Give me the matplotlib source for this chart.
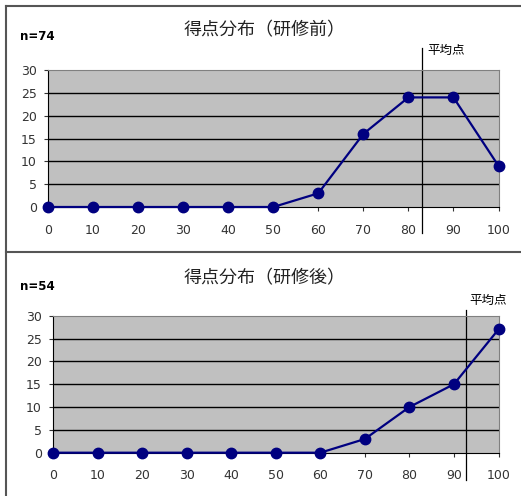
import matplotlib.pyplot as plt
from matplotlib.lines import Line2D

plt.rcParams['font.family'] = ['Noto Sans CJK JP', 'DejaVu Sans']

scores = [0, 10, 20, 30, 40, 50, 60, 70, 80, 90, 100]
before = [0, 0, 0, 0, 0, 0, 3, 16, 24, 24, 9]
after = [0, 0, 0, 0, 0, 0, 0, 3, 10, 15, 27]
mean_before = 83.0
mean_after = 92.8
titles = ['得点分布（研修前）', '得点分布（研修後）']
n_labels = ['n=74', 'n=54']

W, H = 521, 496
fig = plt.figure(figsize=(W / 100, H / 100), dpi=100)


def px(x, y):
    return x / W, 1 - y / H


def panel(rect, values, mean, title, nlab, title_y, n_y, line_span, lab_xy):
    ax = fig.add_axes(rect)
    ax.set_facecolor('#c0c0c0')
    ax.set_xlim(0, 100)
    ax.set_ylim(0, 30)
    ax.set_yticks(range(0, 31, 5))
    ax.set_xticks(scores)
    for v in range(5, 30, 5):
        ax.axhline(v, color='black', lw=1.0, zorder=1)
    ax.plot(scores, values, color='#000080', lw=1.6, marker='o', ms=7.5,
            clip_on=False, zorder=3)
    ax.axvline(mean, ymin=line_span[0], ymax=line_span[1], color='black',
               lw=0.9, clip_on=False, zorder=2)
    for s in ['top', 'right']:
        ax.spines[s].set_color('#808080')
    ax.spines['left'].set_color('black')
    ax.spines['bottom'].set_color('black')
    ax.tick_params(axis='both', labelsize=9, colors='#333333', length=3,
                   width=0.8)
    for lab in ax.get_xticklabels() + ax.get_yticklabels():
        lab.set_family('DejaVu Sans')
    ax.tick_params(axis='x', pad=9)
    ax.tick_params(axis='y', pad=5)
    fig.text(*px(265, title_y), title, ha='center', va='center', fontsize=13,
             color='#222222')
    fig.text(*px(20, n_y), nlab, ha='left', va='center', fontsize=8.5,
             fontweight='bold', family='DejaVu Sans')
    fig.text(*px(*lab_xy), '平均点', ha='left', va='center', fontsize=9)
    return ax


panel([48 / W, 1 - 207 / H, 450.5 / W, 137 / H], before, mean_before,
      titles[0], n_labels[0], 30, 36, (-0.19, 1.16), (427, 50))
panel([53 / W, 1 - 452.7 / H, 445.5 / W, 137 / H], after, mean_after,
      titles[1], n_labels[1], 278, 287, (-0.2, 1.04), (469, 300))

# panel frames
fig.add_artist(Line2D([6 / W, 6 / W], [0, 1 - 6 / H], color='#555555', lw=1.5))
fig.add_artist(Line2D([6 / W, 1], [1 - 6 / H, 1 - 6 / H], color='#555555', lw=1.5))
fig.add_artist(Line2D([6 / W, 1], [1 - 252 / H, 1 - 252 / H], color='#555555', lw=1.5))

fig.savefig('out.png', dpi=100)
